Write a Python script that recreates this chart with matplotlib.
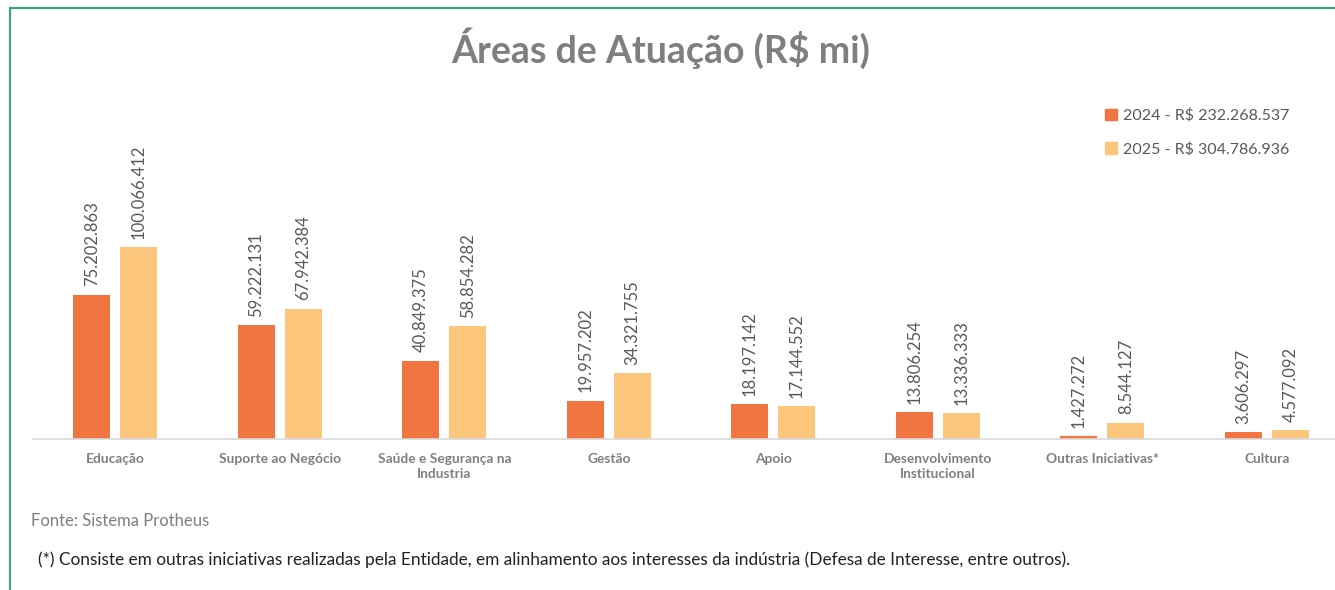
import matplotlib.pyplot as plt
from matplotlib.patches import Patch, Rectangle
import numpy as np

plt.rcParams['font.family'] = ['Lato', 'DejaVu Sans']

# dados (R$)
categorias = ["Educação", "Suporte ao Negócio", "Saúde e Segurança na\nIndustria", "Gestão",
              "Apoio", "Desenvolvimento\nInstitucional", "Outras Iniciativas*", "Cultura"]
valores_2024 = [75202863, 59222131, 40849375, 19957202, 18197142, 13806254, 1427272, 3606297]
valores_2025 = [100066412, 67942384, 58854282, 34321755, 17144552, 13336333, 8544127, 4577092]
legenda = ["2024 - R$ 232.268.537", "2025 - R$ 304.786.936"]

cor_2024 = '#F07540'
cor_2025 = '#FCC77D'
cinza = '#7F7F7F'


def fmt(v):
    return f"{v:,}".replace(",", ".")


W, H = 1335, 590
fig = plt.figure(figsize=(W / 100, H / 100), dpi=100)

# moldura verde
fig.add_artist(Rectangle((10 / W, -0.1), 1.2, (H - 8) / H + 0.1, transform=fig.transFigure,
                         fill=False, edgecolor='#3DA57E', linewidth=1.6))

ax = fig.add_axes([33 / W, (H - 439) / H, (W - 33) / W, 380 / H])
x = np.arange(len(categorias))
larg = 0.225
desl = 0.143
y24 = np.array(valores_2024) / 1e6
y25 = np.array(valores_2025) / 1e6
b1 = ax.bar(x - desl, y24, larg, color=cor_2024)
b2 = ax.bar(x + desl, y25, larg, color=cor_2025)

for barras, vals in [(b1, valores_2024), (b2, valores_2025)]:
    for b, v in zip(barras, vals):
        ax.annotate(fmt(v), (b.get_x() + b.get_width() / 2, b.get_height()),
                    xytext=(0, 6), textcoords='offset points', rotation=90,
                    ha='center', va='bottom', fontsize=12, color='#595959')

ax.set_xlim(-0.5, -0.5 + (W - 33) / 164.5)
ax.set_ylim(0, 380 / 1.92)
ax.set_xticks(x)
ax.set_xticklabels(categorias, fontsize=9.9, fontweight='bold', color=cinza, linespacing=1.35)
ax.tick_params(axis='x', length=0, pad=10)
ax.set_yticks([])
for s in ['top', 'right', 'left']:
    ax.spines[s].set_visible(False)
ax.spines['bottom'].set_color('#D9D9D9')
ax.spines['bottom'].set_linewidth(1.2)

fig.text(661 / W, 1 - 48 / H, "Áreas de Atuação (R$ mi)", ha='center', va='center',
         fontsize=27, fontweight='bold', color=cinza)

handles = [Patch(color=cor_2024), Patch(color=cor_2025)]
fig.legend(handles, legenda, loc='upper left', bbox_to_anchor=(1091 / W, 1 - 94 / H),
           frameon=False, fontsize=11.5, labelcolor='#595959', handlelength=0.7,
           handleheight=0.7, handletextpad=0.4, labelspacing=1.2)

fig.text(31 / W, 1 - 521 / H, "Fonte: Sistema Protheus", ha='left', va='center',
         fontsize=12, color=cinza)
fig.text(38 / W, 1 - 560 / H,
         "(*) Consiste em outras iniciativas realizadas pela Entidade, em alinhamento aos interesses da indústria (Defesa de Interesse, entre outros).",
         ha='left', va='center', fontsize=12.4, color='#222222')

fig.savefig("out.png", dpi=100)
